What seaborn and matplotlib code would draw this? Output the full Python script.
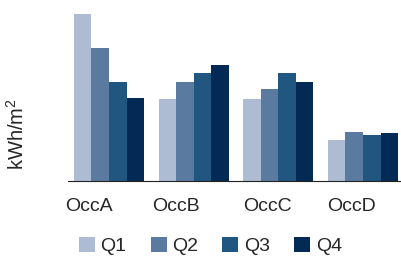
import numpy as np
import pandas as pd
import matplotlib
matplotlib.use("Agg")
import matplotlib.pyplot as plt
import seaborn as sns

# data (relative units, OccA Q1 = 100)
occupancies = ["OccA", "OccB", "OccC", "OccD"]
quarters = ["Q1", "Q2", "Q3", "Q4"]
q1 = [100, 49, 49, 24.6]
q2 = [79.6, 59.3, 55.1, 29.3]
q3 = [59.3, 64.7, 64.7, 27.5]
q4 = [49.7, 69.5, 59.3, 28.7]
colors = ["#aebcd3", "#5a7a9f", "#215680", "#022a54"]

rows = []
for q, vals in zip(quarters, [q1, q2, q3, q4]):
    for occ, v in zip(occupancies, vals):
        rows.append({"occ": occ, "quarter": q, "value": v})
df = pd.DataFrame(rows)

sns.set_style("white")
plt.rcParams["font.family"] = ["Liberation Sans", "DejaVu Sans"]
plt.rcParams["mathtext.fontset"] = "custom"
plt.rcParams["mathtext.rm"] = "Liberation Sans"
plt.rcParams["mathtext.it"] = "Liberation Sans"
text_color = "#262626"

fig = plt.figure(figsize=(4.01, 2.57), dpi=100)
ax = fig.add_axes([68 / 401, 76 / 257, 333 / 401, 167 / 257])

sns.barplot(data=df, x="occ", y="value", hue="quarter", palette=colors,
            width=0.83, saturation=1, linewidth=0, ax=ax)

ax.set_xlim(-0.484, 3.449)
ax.set_ylim(0, 100)

for s in ["top", "right", "left"]:
    ax.spines[s].set_visible(False)
ax.spines["bottom"].set_color("#222222")
ax.spines["bottom"].set_linewidth(0.8)

# tick labels sit a little left of the group centres in the original
tick_offsets = [-0.24, -0.215, -0.13, -0.138]
ax.set_xticks(np.arange(len(occupancies)) + np.array(tick_offsets))
ax.set_xticklabels(occupancies, fontsize=14, color=text_color)
ax.tick_params(axis="x", length=0, pad=12)
ax.set_yticks([])
ax.set_xlabel("")

ax.set_ylabel(r"kWh/m$^\mathregular{2}$", fontsize=14.5, color=text_color,
              ha="center", va="center")
ax.yaxis.set_label_coords(-0.153, 0.28)

handles, labels = ax.get_legend_handles_labels()
ax.legend_.remove()
fig.legend(handles, labels, loc="center", bbox_to_anchor=(210.5 / 401, 1 - 246 / 257),
           ncol=4, frameon=False, fontsize=14, handlelength=0.82, handleheight=0.82,
           handletextpad=0.3, columnspacing=1.24, labelcolor=text_color,
           borderpad=0, borderaxespad=0)

fig.savefig("out.png", dpi=100)
